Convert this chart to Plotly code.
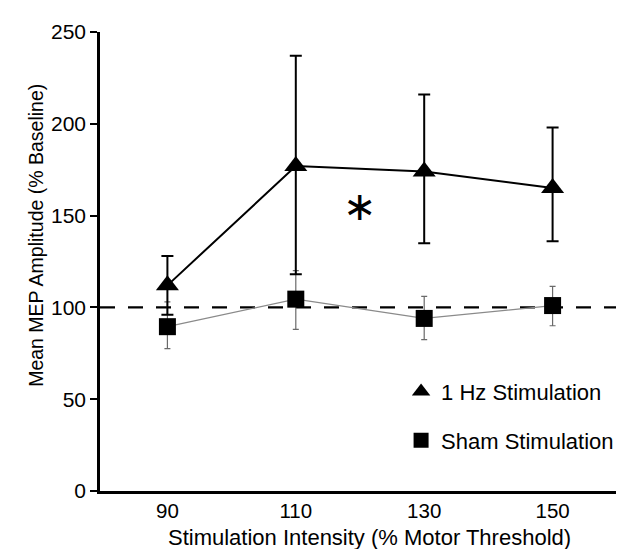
import plotly.graph_objects as go

intensity = [90, 110, 130, 150]
hz_mean = [112, 177, 174, 165]
hz_upper = [128, 237, 216, 198]
hz_lower = [96, 118, 135, 136]
sham_mean = [89.5, 104.5, 94, 101]
sham_upper = [103, 120, 106, 111.5]
sham_lower = [77.5, 88, 82.5, 90]
baseline = 100
star_pos = (120, 150)
y_ticks = [0, 50, 100, 150, 200, 250]
x_ticks = [90, 110, 130, 150]

FONT = "Liberation Sans, Arial, sans-serif"

fig = go.Figure()

fig.add_shape(type="line", xref="paper", x0=0, x1=1, yref="y", y0=baseline, y1=baseline,
              line=dict(color="black", width=2.2, dash="15px,13px"), layer="below")

fig.add_trace(go.Scatter(
    x=intensity, y=sham_mean, mode="lines+markers", showlegend=False,
    line=dict(color="#8a8a8a", width=1.2),
    marker=dict(symbol="square", size=17, color="black"),
    error_y=dict(type="data", symmetric=False,
                 array=[u - m for u, m in zip(sham_upper, sham_mean)],
                 arrayminus=[m - l for m, l in zip(sham_mean, sham_lower)],
                 color="#6a6a6a", thickness=1.2, width=3),
))

fig.add_trace(go.Scatter(
    x=intensity, y=hz_mean, mode="lines+markers", showlegend=False,
    line=dict(color="black", width=2),
    marker=dict(symbol="triangle-up", size=20, color="black"),
    error_y=dict(type="data", symmetric=False,
                 array=[u - m for u, m in zip(hz_upper, hz_mean)],
                 arrayminus=[m - l for m, l in zip(hz_mean, hz_lower)],
                 color="black", thickness=2, width=6),
))

# legend entries
fig.add_trace(go.Scatter(x=[None], y=[None], mode="markers", name="1 Hz Stimulation",
                         legendgroup="a",
                         marker=dict(symbol="triangle-up", size=19, color="black")))
fig.add_trace(go.Scatter(x=[None], y=[None], mode="markers", name="Sham Stimulation",
                         legendgroup="b",
                         marker=dict(symbol="square", size=15, color="black")))

fig.add_annotation(x=star_pos[0], y=star_pos[1], text="∗", showarrow=False, yshift=10,
                   font=dict(family="DejaVu Sans", size=40, color="black"))

fig.add_annotation(xref="paper", yref="paper", x=-0.123, y=0.556, xanchor="center",
                   yanchor="middle",
                   text="Mean MEP Amplitude (% Baseline)", textangle=-90,
                   showarrow=False, font=dict(family=FONT, size=19.5, color="black"))
fig.add_annotation(xref="paper", yref="paper", x=0.519, y=-0.102, yanchor="middle",
                   text="Stimulation Intensity (% Motor Threshold)",
                   showarrow=False, font=dict(family=FONT, size=22, color="black"))

fig.update_layout(
    width=624, height=549,
    margin=dict(l=92, r=12, t=17, b=66),
    paper_bgcolor="white", plot_bgcolor="white",
    font=dict(family=FONT, size=21, color="black"),
    showlegend=True,
    legend=dict(x=0.579, y=0.262, xanchor="left", yanchor="top",
                font=dict(family=FONT, size=22), tracegroupgap=17,
                bgcolor="rgba(0,0,0,0)"),
    xaxis=dict(range=[79.5, 160.5], tickvals=x_ticks, ticks="", showgrid=False,
               zeroline=False, showline=True, linecolor="black", linewidth=2.5,
               tickfont=dict(size=20.5)),
    yaxis=dict(range=[0, 250], tickvals=y_ticks, ticks="outside", ticklen=7,
               tickwidth=2, tickcolor="black", showgrid=False, zeroline=False,
               showline=True, linecolor="black", linewidth=2.5,
               tickfont=dict(size=21)),
)

fig.write_html("out.html")
